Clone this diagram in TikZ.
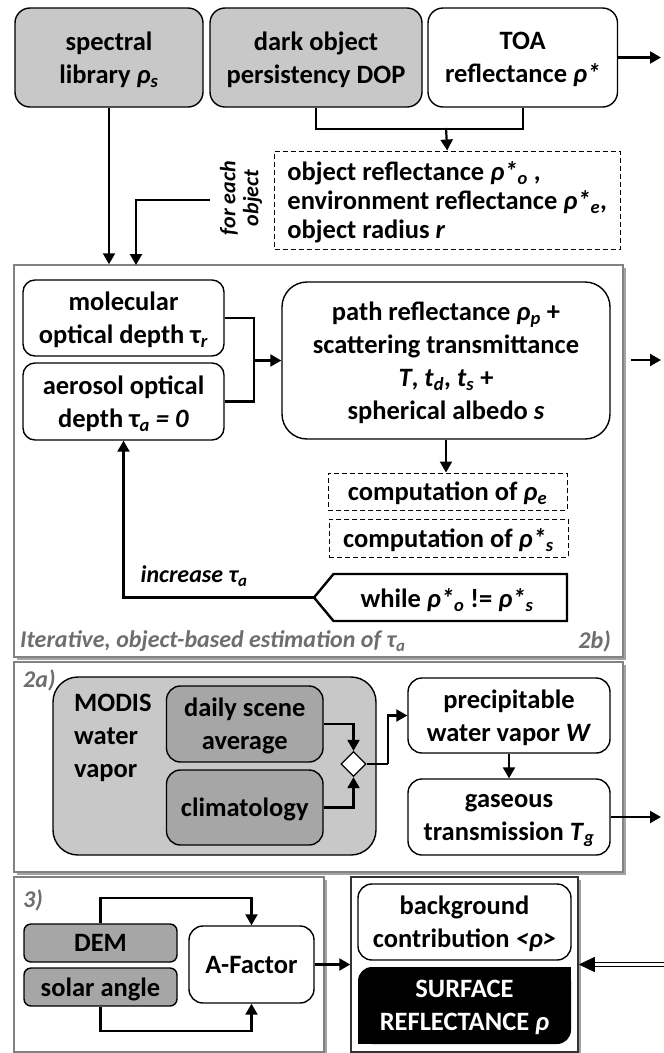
\documentclass[tikz,border=0pt]{standalone}
\usepackage{fontspec}
\setmainfont{Carlito}
\usetikzlibrary{arrows.meta,shapes.geometric,shadows}
\definecolor{boxgray}{RGB}{200,200,200}
\definecolor{deepgray}{RGB}{166,166,166}
\definecolor{framegray}{RGB}{130,130,130}
\definecolor{labelgray}{RGB}{110,110,110}
\newcommand{\ix}[1]{\textsubscript{\textit{#1}}}
\begin{document}
\begin{tikzpicture}[x=1pt,y=-1pt,
  every node/.style={font=\fontsize{26.5}{33}\selectfont\bfseries, inner sep=0pt, align=center},
  flat/.style={text depth=0pt},
  blk/.style={draw, line width=1.4pt, rounded corners=#1, fill=white, flat},
  blk/.default=14,
  dashbox/.style={draw, dashed, dash pattern=on 5pt off 3pt, line width=1pt, flat},
  frame/.style={draw=framegray, line width=1.5pt, fill=white,
    drop shadow={shadow xshift=3pt, shadow yshift=-3pt, fill=black!45, opacity=0.8}},
  lnk/.style={line width=2.2pt},
  conn/.style={line width=2.2pt, -{Triangle[length=11pt,width=12pt]}},
  tag/.style={font=\fontsize{24}{28}\selectfont\bfseries\itshape, text=labelgray},
  loopnote/.style={font=\fontsize{24}{28}\selectfont\bfseries\itshape},
]
\useasboundingbox (0,0) rectangle (664,1053);

% ---------- inputs ----------
\node[blk=15, fill=boxgray, minimum width=188, minimum height=99] (spec) at (109,57.5) {spectral\\library \textit{ρ}\ix{s}};
\node[blk=15, fill=boxgray, minimum width=212, minimum height=99] (dop) at (316,57.5) {dark object\\persistency DOP};
\node[blk=15, minimum width=189.5, minimum height=99] (toa) at (522.75,57.5) {TOA\\reflectance \textit{ρ*}};
\coordinate (toaout) at (661,57.5);
\draw[conn] (toa.east) -- (toaout);

\node[dashbox, minimum width=345.5, minimum height=98, align=left,
  font=\fontsize{26.5}{29}\selectfont\bfseries] (objs) at (447.25,200)
  {object reflectance \textit{ρ*}\ix{o} ,\\environment reflectance \textit{ρ*}\ix{e},\\object radius \textit{r}};
\draw[lnk] (dop.south) -- ++(0,21) -| (toa.south);
\coordinate (merge) at (446,128);
\draw[conn] (merge) -- (objs.north);

\node[rotate=90, font=\fontsize{22}{23}\selectfont\bfseries\itshape] (foreach) at (241,198) {for each\\object};

% ---------- 2b) iterative estimation of the aerosol optical depth ----------
\node[frame, minimum width=609, minimum height=392] (f2b) at (318.5,461) {};
\coordinate (feo) at (210,200);
\coordinate (fein) at (136,265);
\draw[conn] (feo) -| (fein);
\draw[conn] (spec.south) -- (spec.south |- f2b.north);

\node[blk=12, minimum width=201, minimum height=76] (mol) at (123.5,318) {molecular\\optical depth τ\ix{r}};
\node[blk=12, minimum width=201, minimum height=77] (aer) at (123.5,401.5) {aerosol optical\\depth τ\ix{a} \textit{= 0}};
\node[blk=25, minimum width=328, minimum height=157] (path) at (446,360.5)
  {path reflectance \textit{ρ}\ix{p} +\\scattering transmittance\\\textit{T}, \textit{t}\ix{d}, \textit{t}\ix{s} +\\spherical albedo \textit{s}};
\coordinate (jn) at (254,360.5);
\draw[lnk] (mol.east) -| (jn);
\draw[lnk] (aer.east) -| (jn);
\draw[conn] (jn) -- (path.west);
\coordinate (pout) at (631,360);
\coordinate (pend) at (661,360);
\draw[conn] (pout) -- (pend);

\node[dashbox, minimum width=239, minimum height=37] (comp1) at (447.5,491.5) {computation of \textit{ρ}\ix{e}};
\node[dashbox, minimum width=239, minimum height=38] (comp2) at (448.5,538) {computation of \textit{ρ*}\ix{s}};
\draw[conn] (path.south) -- (path.south |- comp1.north);

\node[flat] (while) at (447,598) {while \textit{ρ*}\ix{o} != \textit{ρ*}\ix{s}};
\coordinate (wtip) at (314,597.5);
\draw[line width=2.4pt, line join=miter] (567,574) -- (333.5,574) -- (wtip) -- (333.5,621) -- (567,621) -- cycle;
\draw[conn] (wtip) -| (aer.south);
\node[loopnote] (incr) at (194,576) {increase τ\ix{a}};

\node[tag, anchor=west] (t2b) at (20,641) {Iterative, object-based estimation of τ\ix{a}};
\node[tag, anchor=east] (n2b) at (611,641) {2b)};

% ---------- 2a) water vapour ----------
\node[frame, minimum width=609, minimum height=210] (f2a) at (318.5,767) {};
\node[tag, anchor=west] (n2a) at (23,680) {2a)};
\node[blk=25, fill=boxgray, minimum width=323, minimum height=178] (modis) at (214.5,766) {};
\node[flat, anchor=west, align=left] (modist) at (74,736) {MODIS\\water\\vapor};
\node[blk=14, fill=deepgray, minimum width=156.5, minimum height=76] (daily) at (244.75,724) {daily scene\\average};
\node[blk=14, fill=deepgray, minimum width=156.5, minimum height=75] (clim) at (244.75,807.5) {climatology};
\node[diamond, draw, fill=white, line width=1.3pt, minimum width=25, minimum height=25] (dia) at (353.5,764) {};
\draw[conn] (daily.east) -| (dia.north);
\draw[conn] (clim.east) -| (dia.south);
\node[blk=14, minimum width=202, minimum height=75] (prec) at (509,715.5) {precipitable\\water vapor \textit{W}};
\node[blk=14, minimum width=202, minimum height=76] (gas) at (509,817) {gaseous\\transmission \textit{T}\ix{g}};
\coordinate (dbend) at (387.7,764);
\draw[lnk] (dia.east) -- (dbend);
\draw[conn] (dbend) |- (prec.west);
\draw[conn] (prec.south) -- (gas.north);
\coordinate (gout) at (661,817);
\draw[conn] (gas.east) -- (gout);

% ---------- 3) topographic correction factor ----------
\node[frame, minimum width=310, minimum height=175] (f3) at (169,964.5) {};
\node[tag, anchor=west] (n3) at (23,900) {3)};
\node[blk=7, fill=deepgray, minimum width=153, minimum height=38] (dem) at (100.5,943) {DEM};
\node[blk=7, fill=deepgray, minimum width=153, minimum height=38] (solar) at (100.5,987) {solar angle};
\node[blk=14, minimum width=125, minimum height=77] (af) at (251.5,964.5) {A-Factor};
\draw[conn] (dem.north) -- ++(0,-25) -| (af.north);
\draw[conn] (solar.south) -- ++(0,24) -| (af.south);

% ---------- output ----------
\node[frame, draw=black!80, minimum width=227, minimum height=175] (fsurf) at (464.5,964.5) {};
\draw[conn] (af.east) -- (fsurf.west);
\node[blk=14, minimum width=213, minimum height=76] (bg) at (464.5,922) {background\\contribution \textit{<ρ>}};
\node[fill=black, rounded corners=14, minimum width=213, minimum height=77] (surf) at (464.5,1005.5) {};
\fill[black] (surf.north east) rectangle ++(-16,16);
\fill[black] (surf.south west) rectangle ++(16,-16);
\node[flat, text=white] (surft) at (surf.center) {SURFACE\\REFLECTANCE \textit{ρ}};
% double-lined input arrow with a solid head
\coordinate (dsrc) at (664,964.5);
\draw[line width=1.4pt, double, double distance=2.2pt, shorten >=14pt] (dsrc) -- (fsurf.east);
\draw[line width=1pt, -{Triangle[length=16pt,width=15pt]}] ([xshift=15pt]fsurf.east) -- (fsurf.east);
\end{tikzpicture}
\end{document}
